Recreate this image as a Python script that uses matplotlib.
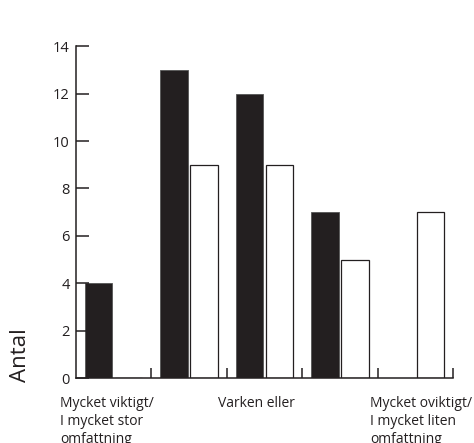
import numpy as np
import matplotlib.pyplot as plt

plt.rcParams['font.family'] = ['Open Sans', 'DejaVu Sans']

# answers per category, two series
black_vals = [4, 13, 12, 7, 0]
white_vals = [0, 9, 9, 5, 7]
cat_labels = ["Mycket viktigt/\nI mycket stor\nomfattning", "Varken eller",
              "Mycket oviktigt/\nI mycket liten\nomfattning"]
label_x = [-0.21, 1.88, 3.90]
y_ticks = [0, 2, 4, 6, 8, 10, 12, 14]

ink = '#231f20'

fig = plt.figure(figsize=(4.74, 4.43), dpi=100)
ax = fig.add_axes([0.160, 0.1467, 0.796, 0.749])

x = np.arange(len(black_vals)) + 0.5
w = 0.365
ax.bar(x - 0.2, black_vals, w, color=ink, edgecolor='#555555', linewidth=0.6)
ax.bar(x + 0.2, white_vals, w, color='white', edgecolor=ink, linewidth=0.9)

ax.set_xlim(0, 5)
ax.set_ylim(0, 14)
ax.spines['top'].set_visible(False)
ax.spines['right'].set_visible(False)
for s in ['left', 'bottom']:
    ax.spines[s].set_color(ink)
    ax.spines[s].set_linewidth(1.1)

ax.set_yticks(y_ticks)
ax.tick_params(axis='y', direction='in', length=9, width=1.1, color=ink,
               labelsize=10.5, labelcolor=ink, pad=4.3)
ax.set_xticks([1, 2, 3, 4, 5])
ax.set_xticklabels([])
ax.tick_params(axis='x', direction='in', length=7, width=1.1, color=ink)

for lx, lab in zip(label_x, cat_labels):
    ax.text(lx, -0.055, lab, transform=ax.get_xaxis_transform(), ha='left', va='top',
            fontsize=10, color=ink, linespacing=1.25, clip_on=False)

fig.text(20 / 474, 1 - 355 / 443, "Antal", rotation=90, ha='center', va='center',
         fontsize=16, color=ink)

fig.savefig('out.png', dpi=100)
